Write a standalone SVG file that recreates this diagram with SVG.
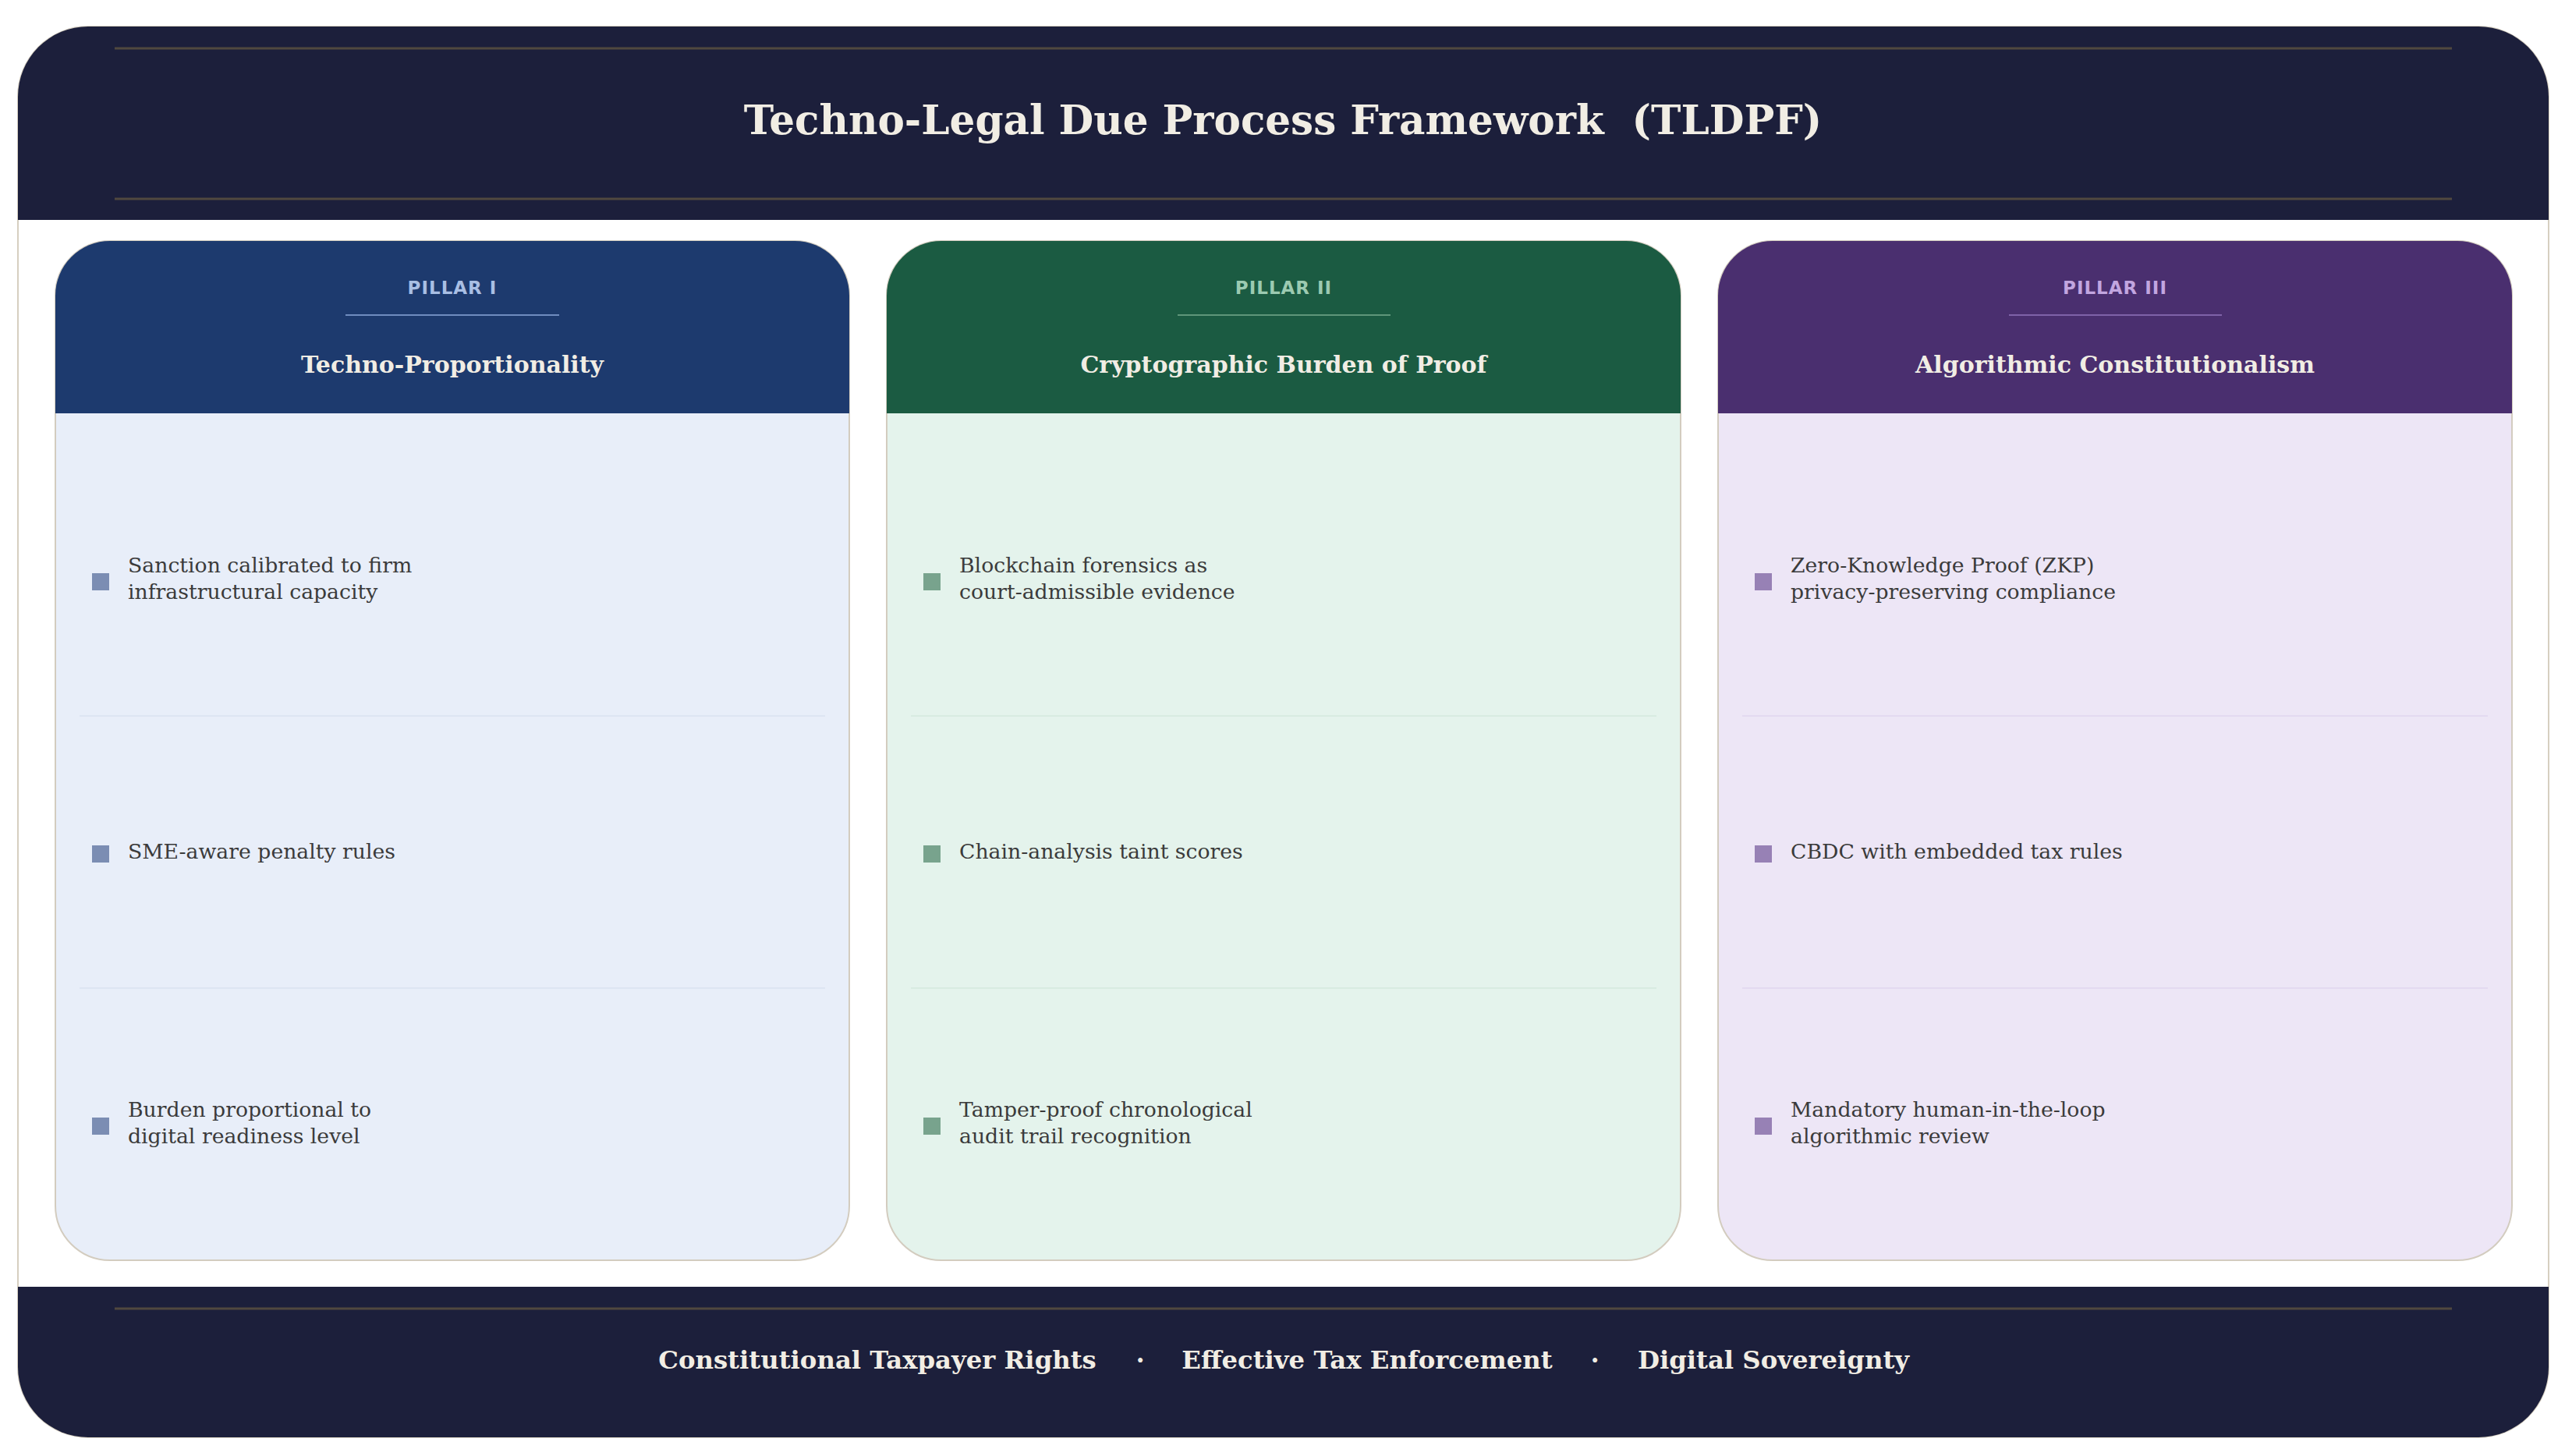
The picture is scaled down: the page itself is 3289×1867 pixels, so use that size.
<svg xmlns="http://www.w3.org/2000/svg" width="3289" height="1867" viewBox="0 0 3289 1867">
<style>
.title{font-family:"DejaVu Serif","Liberation Serif",serif;font-weight:bold;fill:#f1ede4;text-anchor:middle}
.ptitle{font-family:"DejaVu Serif","Liberation Serif",serif;font-weight:bold;font-size:30px;fill:#f1ede4;text-anchor:middle}
.plabel{font-family:"DejaVu Sans","Liberation Sans",sans-serif;font-weight:bold;font-size:23px;letter-spacing:1px;text-anchor:middle}
.item{font-family:"DejaVu Serif","Liberation Serif",serif;font-size:26.7px;fill:#3b3b3b}
.foot{font-family:"DejaVu Serif","Liberation Serif",serif;font-weight:bold;font-size:32.3px;fill:#f1ede4;text-anchor:middle}
.gold{stroke:#50483f;stroke-width:3}
.card{stroke:#d3ccbf;stroke-width:2}
</style>
<rect width="3289" height="1867" fill="#ffffff"/>
<g id="frame">
<rect x="23" y="34" width="3245" height="1809" rx="90" fill="#ffffff" stroke="#d6cfc0" stroke-width="2"/>
</g>
<g id="header">
<path d="M23,282 V124 A90,90 0 0 1 113,34 H3178 A90,90 0 0 1 3268,124 V282 Z" fill="#1c1f3b"/>
<line class="gold" x1="147" y1="62" x2="3144" y2="62"/>
<line class="gold" x1="147" y1="255" x2="3144" y2="255"/>
<text class="title" x="1645" y="172" font-size="51.6">Techno-Legal Due Process Framework&#160; (TLDPF)</text>
</g>
<g id="pillar1">
<rect class="card" x="71" y="309" width="1018" height="1307" rx="70" fill="#e8eef9"/>
<path d="M71,530 V379 A70,70 0 0 1 141,309 H1019 A70,70 0 0 1 1089,379 V530 Z" fill="#1d3a6e"/>
<text class="plabel" x="580" y="377" fill="#a9bfe4">PILLAR I</text>
<line x1="443" y1="404" x2="717" y2="404" stroke="#6f8cbf" stroke-width="2"/>
<text class="ptitle" x="580" y="478">Techno-Proportionality</text>
<line x1="102" y1="918" x2="1058" y2="918" stroke="#dde5f2" stroke-width="2"/>
<line x1="102" y1="1267" x2="1058" y2="1267" stroke="#dde5f2" stroke-width="2"/>
<rect x="118" y="735" width="22" height="22" fill="#7b8db3"/>
<text class="item" x="164" y="734">Sanction calibrated to firm</text>
<text class="item" x="164" y="768">infrastructural capacity</text>
<rect x="118" y="1084" width="22" height="22" fill="#7b8db3"/>
<text class="item" x="164" y="1101">SME-aware penalty rules</text>
<rect x="118" y="1433" width="22" height="22" fill="#7b8db3"/>
<text class="item" x="164" y="1432">Burden proportional to</text>
<text class="item" x="164" y="1466">digital readiness level</text>
</g>
<g id="pillar2">
<rect class="card" x="1137" y="309" width="1018" height="1307" rx="70" fill="#e4f3ec"/>
<path d="M1137,530 V379 A70,70 0 0 1 1207,309 H2085 A70,70 0 0 1 2155,379 V530 Z" fill="#1b5b42"/>
<text class="plabel" x="1646" y="377" fill="#9ccab1">PILLAR II</text>
<line x1="1510" y1="404" x2="1783" y2="404" stroke="#5f967a" stroke-width="2"/>
<text class="ptitle" x="1646" y="478">Cryptographic Burden of Proof</text>
<line x1="1168" y1="918" x2="2124" y2="918" stroke="#d8ebe1" stroke-width="2"/>
<line x1="1168" y1="1267" x2="2124" y2="1267" stroke="#d8ebe1" stroke-width="2"/>
<rect x="1184" y="735" width="22" height="22" fill="#78a38d"/>
<text class="item" x="1230" y="734">Blockchain forensics as</text>
<text class="item" x="1230" y="768">court-admissible evidence</text>
<rect x="1184" y="1084" width="22" height="22" fill="#78a38d"/>
<text class="item" x="1230" y="1101">Chain-analysis taint scores</text>
<rect x="1184" y="1433" width="22" height="22" fill="#78a38d"/>
<text class="item" x="1230" y="1432">Tamper-proof chronological</text>
<text class="item" x="1230" y="1466">audit trail recognition</text>
</g>
<g id="pillar3">
<rect class="card" x="2203" y="309" width="1018" height="1307" rx="70" fill="#ede6f6"/>
<path d="M2203,530 V379 A70,70 0 0 1 2273,309 H3151 A70,70 0 0 1 3221,379 V530 Z" fill="#4a2f6f"/>
<text class="plabel" x="2712" y="377" fill="#c2a6e0">PILLAR III</text>
<line x1="2576" y1="404" x2="2849" y2="404" stroke="#7f63a8" stroke-width="2"/>
<text class="ptitle" x="2712" y="478">Algorithmic Constitutionalism</text>
<line x1="2234" y1="918" x2="3190" y2="918" stroke="#e3daf0" stroke-width="2"/>
<line x1="2234" y1="1267" x2="3190" y2="1267" stroke="#e3daf0" stroke-width="2"/>
<rect x="2250" y="735" width="22" height="22" fill="#9781b5"/>
<text class="item" x="2296" y="734">Zero-Knowledge Proof (ZKP)</text>
<text class="item" x="2296" y="768">privacy-preserving compliance</text>
<rect x="2250" y="1084" width="22" height="22" fill="#9781b5"/>
<text class="item" x="2296" y="1101">CBDC with embedded tax rules</text>
<rect x="2250" y="1433" width="22" height="22" fill="#9781b5"/>
<text class="item" x="2296" y="1432">Mandatory human-in-the-loop</text>
<text class="item" x="2296" y="1466">algorithmic review</text>
</g>
<g id="footer">
<path d="M23,1650 H3268 V1753 A90,90 0 0 1 3178,1843 H113 A90,90 0 0 1 23,1753 Z" fill="#1c1f3b"/>
<line class="gold" x1="147" y1="1678" x2="3144" y2="1678"/>
<text class="foot" x="1125" y="1755">Constitutional Taxpayer Rights</text>
<text class="foot" x="1462" y="1755">·</text>
<text class="foot" x="1753" y="1755">Effective Tax Enforcement</text>
<text class="foot" x="2045" y="1755">·</text>
<text class="foot" x="2274" y="1755">Digital Sovereignty</text>
</g>
<g id="connectors"/>
</svg>
